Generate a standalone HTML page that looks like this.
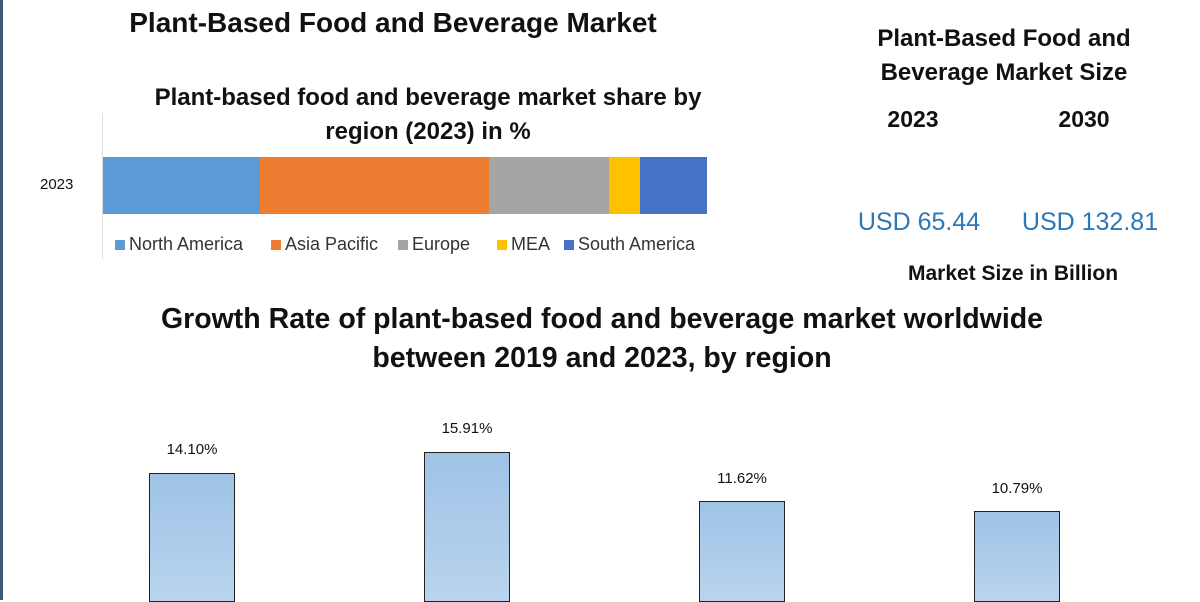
<!DOCTYPE html>
<html><head><meta charset="utf-8"><style>
body{margin:0;width:1200px;height:600px;background:#fff;position:relative;overflow:hidden;font-family:"Liberation Sans",sans-serif;color:#111}
.a{position:absolute;white-space:nowrap}
.c{transform:translateX(-50%)}
.b{font-weight:bold}
.seg{position:absolute;top:157px;height:57px}
.bar{position:absolute;width:84px;bottom:-2px;border:1px solid #222;background:linear-gradient(#9fc3e6,#b9d4ee)}
.lbl{position:absolute;font-size:15px;transform:translateX(-50%)}
.lg{position:absolute;top:234px;font-size:18px;color:#333}
.lg i{display:inline-block;width:10px;height:10px;margin-right:4px}
</style></head><body>
<div class="a" style="left:0;top:0;width:3px;height:600px;background:#3b5a78"></div>
<div class="a c b" style="left:393px;top:7px;font-size:28px">Plant-Based Food and Beverage Market</div>
<div class="a c b" style="left:428px;top:81px;font-size:24px;text-align:center;line-height:34px">Plant-based food and beverage market share by<br>region (2023) in %</div>
<div class="a" style="left:102px;top:113px;width:1px;height:146px;background:#ddd"></div>
<div class="a" style="left:40px;top:176px;font-size:15px">2023</div>
<div class="seg" style="left:103px;width:157px;background:#5b9bd5"></div>
<div class="seg" style="left:260px;width:229px;background:#ed7d31"></div>
<div class="seg" style="left:489px;width:120px;background:#a5a5a5"></div>
<div class="seg" style="left:609px;width:31px;background:#ffc000"></div>
<div class="seg" style="left:640px;width:67px;background:#4472c4"></div>
<div class="lg" style="left:115px"><i style="background:#5b9bd5"></i>North America</div>
<div class="lg" style="left:271px"><i style="background:#ed7d31"></i>Asia Pacific</div>
<div class="lg" style="left:398px"><i style="background:#a5a5a5"></i>Europe</div>
<div class="lg" style="left:497px"><i style="background:#ffc000"></i>MEA</div>
<div class="lg" style="left:564px"><i style="background:#4472c4"></i>South America</div>
<div class="a c b" style="left:1004px;top:22px;font-size:24px;text-align:center;line-height:34px">Plant-Based Food and<br>Beverage Market Size</div>
<div class="a c b" style="left:913px;top:106px;font-size:23px">2023</div>
<div class="a c b" style="left:1084px;top:106px;font-size:23px">2030</div>
<div class="a c" style="left:919px;top:208px;font-size:25px;color:#2b78b8">USD 65.44</div>
<div class="a c" style="left:1090px;top:208px;font-size:25px;color:#2b78b8">USD 132.81</div>
<div class="a c b" style="left:1013px;top:262px;font-size:21px">Market Size in Billion</div>
<div class="a c b" style="left:602px;top:300px;font-size:28.5px;text-align:center;line-height:39px">Growth Rate of plant-based food and beverage market worldwide<br>between 2019 and 2023, by region</div>
<div class="bar" style="left:149px;top:473px"></div>
<div class="bar" style="left:424px;top:452px"></div>
<div class="bar" style="left:699px;top:501px"></div>
<div class="bar" style="left:974px;top:511px"></div>
<div class="lbl" style="left:192px;top:441px">14.10%</div>
<div class="lbl" style="left:467px;top:420px">15.91%</div>
<div class="lbl" style="left:742px;top:470px">11.62%</div>
<div class="lbl" style="left:1017px;top:480px">10.79%</div>
</body></html>
